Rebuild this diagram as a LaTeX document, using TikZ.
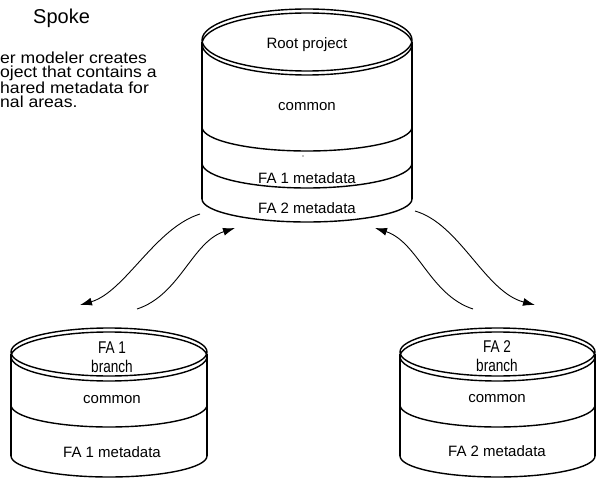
\documentclass[tikz,border=0pt]{standalone}
\usepackage{fontspec}
\usepackage{graphicx}
\setmainfont{Liberation Sans}
\usetikzlibrary{arrows.meta}
\begin{document}
\begin{tikzpicture}[x=1pt,y=1pt,
  cyl/.style={line width=1.4pt},
  lbl/.style={font=\fontsize{15}{17}\selectfont, inner sep=0pt},
  nlbl/.style={font=\fontsize{17}{19}\selectfont, inner sep=0pt},
  para/.style={font=\fontsize{16}{13.8}\selectfont, align=left, anchor=north west, inner sep=0pt},
  ttl/.style={font=\fontsize{20}{23}\selectfont, anchor=base west, inner sep=0pt},
  flow/.style={line width=0.9pt, -{Latex[length=12pt,width=8pt]}}]
\useasboundingbox (0,0) rectangle (596,-478);

% title and paragraph (cut at the left in the reference)
\node[ttl] (title) at (33,-24) {Spoke};
\node[para] (para) at (0,-52) {\scalebox{1.1}[1]{er modeler creates}\\
\scalebox{1.1}[1]{oject that contains a}\\
\scalebox{1.1}[1]{hared metadata for}\\
\scalebox{1.1}[1]{nal areas.}};

% root cylinder
\draw[cyl] (307,-40) ellipse [x radius=105, y radius=31];
\draw[cyl] (307,-44) ellipse [x radius=105, y radius=31];
\draw[cyl] (202,-42) -- (202,-199);
\draw[cyl] (412,-42) -- (412,-199);
\draw[cyl] (202,-127) arc [start angle=180, end angle=360, x radius=105, y radius=24];
\draw[cyl] (202,-163) arc [start angle=180, end angle=360, x radius=105, y radius=25];
\draw[cyl] (202,-199) arc [start angle=180, end angle=360, x radius=105, y radius=23];
\fill (303,-156) circle (0.6);
\node[lbl] (rootp) at (307,-45) {Root project};
\node[lbl] (rcom) at (307,-107) {common};
\node[lbl] (rfa1) at (307,-178) {FA 1 metadata};
\node[lbl] (rfa2) at (307,-208) {FA 2 metadata};

% left cylinder
\draw[cyl] (109,-352) ellipse [x radius=98, y radius=24];
\draw[cyl] (109,-356.5) ellipse [x radius=98, y radius=24.5];
\draw[cyl] (11,-354) -- (11,-456);
\draw[cyl] (207,-354) -- (207,-456);
\draw[cyl] (11,-405) arc [start angle=180, end angle=360, x radius=98, y radius=22];
\draw[cyl] (11,-456) arc [start angle=180, end angle=360, x radius=98, y radius=21];
\node[nlbl] (lfa) at (112,-348) {\scalebox{0.8}[1]{FA 1}};
\node[nlbl] (lbr) at (112,-366) {\scalebox{0.8}[1]{branch}};
\node[lbl] (lcom) at (112,-400) {common};
\node[lbl] (lmeta) at (112,-452) {FA 1 metadata};

% right cylinder
\draw[cyl] (497.5,-352) ellipse [x radius=97.5, y radius=24];
\draw[cyl] (497.5,-356.5) ellipse [x radius=97.5, y radius=24.5];
\draw[cyl] (400,-354) -- (400,-456);
\draw[cyl] (595,-354) -- (595,-456);
\draw[cyl] (400,-405) arc [start angle=180, end angle=360, x radius=97.5, y radius=22];
\draw[cyl] (400,-456) arc [start angle=180, end angle=360, x radius=97.5, y radius=21];
\node[nlbl] (rfa) at (497,-347) {\scalebox{0.8}[1]{FA 2}};
\node[nlbl] (rbr) at (497,-365) {\scalebox{0.8}[1]{branch}};
\node[lbl] (rcm) at (497,-399) {common};
\node[lbl] (rmeta) at (497,-451) {FA 2 metadata};

% arrows
\coordinate (a1s) at (200,-214); \coordinate (a1e) at (80,-305);
\coordinate (a2s) at (137,-309); \coordinate (a2e) at (235,-228);
\coordinate (a3s) at (415,-211); \coordinate (a3e) at (535,-305);
\coordinate (a4s) at (473,-309); \coordinate (a4e) at (375,-228);
\draw[flow] (a1s) .. controls (155,-228) and (125,-292) .. (a1e);
\draw[flow] (a2s) .. controls (180,-295) and (192,-242) .. (a2e);
\draw[flow] (a3s) .. controls (460,-224) and (485,-292) .. (a3e);
\draw[flow] (a4s) .. controls (430,-295) and (418,-242) .. (a4e);
\end{tikzpicture}
\end{document}
